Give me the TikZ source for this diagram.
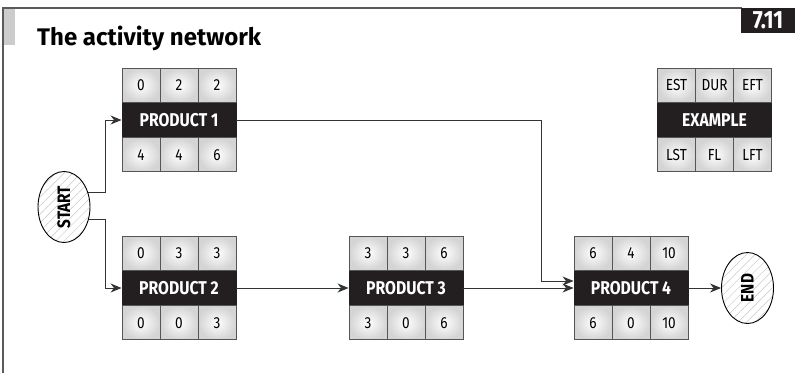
\documentclass[tikz,border=0pt]{standalone}
\usepackage{fontspec}
\setmainfont{Fira Sans}
\newfontfamily\condfont[FakeStretch=0.85]{Fira Sans}
\usetikzlibrary{arrows.meta,patterns.meta,shapes.geometric}
\pgfdeclarelayer{background}
\pgfsetlayers{background,main}
\definecolor{bandblack}{HTML}{231F20}
\definecolor{celledge}{HTML}{555555}
\definecolor{linecol}{HTML}{333333}
\definecolor{framecol}{HTML}{5A5A5A}
\tikzset{
  cell/.style={draw=celledge, line width=0.9pt, minimum width=38pt, minimum height=34pt,
    inner sep=0pt, shading=radial, inner color=white, outer color=black!17,
    font=\condfont\fontsize{16}{18}\selectfont},
  band/.style={fill=bandblack, draw=bandblack, line width=0.9pt, minimum width=114pt,
    minimum height=34pt, inner sep=0pt, text=white, font=\condfont\fontsize{18.5}{20}\selectfont\bfseries},
  terminal/.style={ellipse, draw=black, line width=0.9pt, minimum width=71pt, minimum height=52pt,
    inner sep=0pt, rotate=90, preaction={fill=white},
    pattern={Lines[angle=45,distance=6pt,line width=0.5pt]}, pattern color=black!22,
    font=\condfont\fontsize{18}{20}\selectfont\bfseries},
  conn/.style={draw=linecol, line width=0.9pt},
  arr/.style={conn, -{Stealth[length=11pt,width=9pt,inset=3.5pt]}},
  frameline/.style={draw=framecol, line width=1.6pt},
}
\newcommand{\actbox}[9]{%
  \node[band] (#1) at #2 {#3};
  \node[cell, anchor=south west] (#1-1) at (#1.north west) {#4};
  \node[cell, anchor=south] (#1-2) at (#1.north) {#5};
  \node[cell, anchor=south east] (#1-3) at (#1.north east) {#6};
  \node[cell, anchor=north west] (#1-4) at (#1.south west) {#7};
  \node[cell, anchor=north] (#1-5) at (#1.south) {#8};
  \node[cell, anchor=north east] (#1-6) at (#1.south east) {#9};
}
\begin{document}
\begin{tikzpicture}[x=1pt,y=-1pt]
\useasboundingbox (0,0) rectangle (805,373);
% frame
\fill[black!20] (3,8) rectangle (15,45);
\draw[frameline] (3,373) -- (3,8) -- (742,8);
\node[fill=bandblack, text=white, minimum width=54pt, minimum height=25pt, inner sep=0pt,
  font=\condfont\fontsize{25}{27}\selectfont\bfseries] (num) at (768,20.5) {7.11};
\node[anchor=base west, inner sep=0pt, font=\fontsize{24}{28}\selectfont\bfseries] (title) at (37,45) {The activity network};
% boxes
\actbox{p1}{(179,120)}{PRODUCT 1}{0}{2}{2}{4}{4}{6}
\actbox{p2}{(179,288)}{PRODUCT 2}{0}{3}{3}{0}{0}{3}
\actbox{p3}{(406,288)}{PRODUCT 3}{3}{3}{6}{3}{0}{6}
\actbox{p4}{(631,288)}{PRODUCT 4}{6}{4}{10}{6}{0}{10}
\actbox{ex}{(714.5,120)}{EXAMPLE}{EST}{DUR}{EFT}{LST}{FL}{LFT}
% terminals
\node[terminal] (start) at (64,207) {START};
\node[terminal] (end) at (747.5,288) {END};
% connectors
\begin{pgfonlayer}{background}
\draw[arr] ([yshift=15pt]start.center) -| ([xshift=-16pt]p1.west) -- (p1.west);
\draw[arr] ([yshift=-12pt]start.center) -| ([xshift=-16pt]p2.west) -- (p2.west);
\end{pgfonlayer}
\draw[arr] (p2.east) -- (p3.west);
\draw[arr] (p3.east) -- (p4.west);
\draw[arr] (p1.east) -| ([xshift=-32pt,yshift=7pt]p4.west) -- ([yshift=7pt]p4.west);
\draw[arr] (p4.east) -- (end);
\end{tikzpicture}
\end{document}
